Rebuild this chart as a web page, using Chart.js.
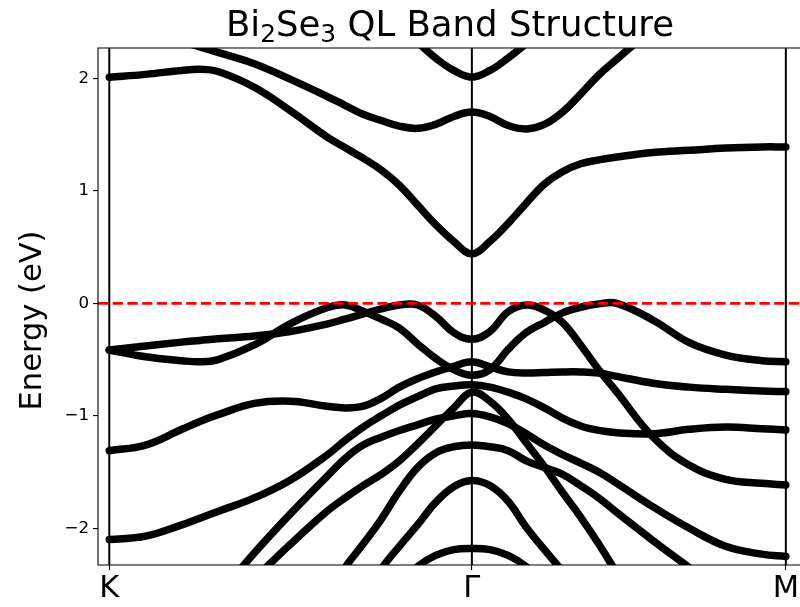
<!DOCTYPE html>
<html><head><meta charset="utf-8">
<script src="https://cdn.jsdelivr.net/npm/chart.js@4.4.0/dist/chart.umd.min.js"></script>
<style>html,body{margin:0;padding:0;background:#fff;}canvas{display:block;}</style>
</head><body>
<canvas id="c" width="800" height="607"></canvas>
<script>
// ---- data (k along K -> Gamma -> M, energies in eV) ----
const kGrid = [0, 0.1, 0.2, 0.25, 0.3, 0.4, 0.5, 0.6, 0.65, 0.7, 0.75, 0.8, 0.85, 0.9, 0.95, 1.0,
               1.05, 1.1, 1.15, 1.2, 1.25, 1.3, 1.35, 1.4, 1.5, 1.6, 1.7, 1.8, 1.866];
const kTicks = [0, 1, 1.866];
const kLabels = ['K', 'Γ', 'M'];
const eTicks = [-2, -1, 0, 1, 2];
const fermiLevel = 0;

const bandC3 = [null, null, null, null, null, null, null, null, null, null, null, 2.45, 2.32, 2.18, 2.07, 2.01,
                2.07, 2.18, 2.31, 2.45, null, null, null, null, null, null, null, null, null];
const bandC2 = [2.55, 2.45, 2.33, 2.28, 2.23, 2.13, 1.99, 1.84, 1.76, 1.68, 1.625, 1.575, 1.555, 1.59, 1.66, 1.70,
                1.66, 1.58, 1.55, 1.59, 1.70, 1.86, 2.03, 2.17, 2.45, null, null, null, null];
const bandC1 = [2.01, 2.035, 2.07, 2.08, 2.06, 1.92, 1.71, 1.48, 1.385, 1.29, 1.185, 1.05, 0.875, 0.70, 0.55, 0.44,
                0.55, 0.71, 0.89, 1.06, 1.17, 1.24, 1.275, 1.30, 1.34, 1.36, 1.38, 1.39, 1.39];
const bandV1 = [-0.415, -0.38, -0.345, -0.33, -0.315, -0.29, -0.25, -0.185, -0.14, -0.095, -0.05, -0.015, -0.015, -0.115, -0.26, -0.32,
                -0.25, -0.075, -0.015, -0.06, -0.17, -0.37, -0.59, -0.79, -1.19, -1.44, -1.565, -1.60, -1.615];
const bandV2 = [-0.415, -0.475, -0.51, -0.52, -0.50, -0.37, -0.18, -0.04, -0.015, -0.07, -0.14, -0.22, -0.36, -0.49, -0.59, -0.64,
                -0.59, -0.41, -0.26, -0.17, -0.085, -0.035, -0.005, 0.0, -0.15, -0.35, -0.46, -0.51, -0.52];
const bandV3 = [-1.31, -1.26, -1.12, -1.05, -0.99, -0.89, -0.87, -0.915, -0.93, -0.915, -0.845, -0.745, -0.67, -0.61, -0.56, -0.52,
                -0.565, -0.61, -0.62, -0.615, -0.61, -0.61, -0.62, -0.65, -0.71, -0.745, -0.765, -0.78, -0.785];
const bandV4 = [-2.10, -2.07, -1.97, -1.91, -1.85, -1.73, -1.57, -1.35, -1.22, -1.10, -1.00, -0.905, -0.83, -0.76, -0.735, -0.725,
                -0.745, -0.79, -0.85, -0.93, -1.02, -1.09, -1.13, -1.15, -1.16, -1.12, -1.10, -1.115, -1.126];
const bandV5 = [null, null, null, null, -2.60, -2.22, -1.87, -1.54, -1.38, -1.26, -1.19, -1.13, -1.08, -1.03, -1.00, -0.98,
                -1.01, -1.07, -1.16, -1.26, -1.345, -1.42, -1.50, -1.60, -1.81, -2.00, -2.16, -2.23, -2.25];
const bandV6 = [null, null, null, null, null, -2.45, -2.14, -1.85, -1.73, -1.62, -1.52, -1.40, -1.25, -1.09, -0.93, -0.79,
                -0.87, -1.03, -1.24, -1.45, -1.68, -1.90, -2.14, -2.40, null, null, null, null, null];
const bandV7 = [null, null, null, null, null, null, null, -2.60, -2.35, -2.14, -1.92, -1.67, -1.46, -1.33, -1.275, -1.26,
                -1.275, -1.31, -1.40, -1.46, -1.52, -1.62, -1.73, -1.86, -2.11, -2.35, null, null, null];
const bandV8 = [null, null, null, null, null, null, null, null, null, -2.60, -2.36, -2.16, -1.97, -1.77, -1.63, -1.575,
                -1.62, -1.76, -1.99, -2.19, -2.38, null, null, null, null, null, null, null, null];
const bandV9 = [null, null, null, null, null, null, null, null, null, null, null, -2.50, -2.34, -2.24, -2.19, -2.18,
                -2.19, -2.24, -2.34, -2.50, null, null, null, null, null, null, null, null, null];

const bands = [bandC3, bandC2, bandC1, bandV1, bandV2, bandV3, bandV4, bandV5, bandV6, bandV7, bandV8, bandV9];

// ---- layout ----
const PLOT_LEFT = 98, PLOT_TOP = 48, PLOT_BOTTOM = 565, W = 800, H = 607;
const PX_PER_K = 363, K_PIX0 = 109.3;
const PX_PER_E = 112.5, E0_PIX = 303.3;
const xMin = (PLOT_LEFT - K_PIX0) / PX_PER_K;
const xMax = (W - K_PIX0) / PX_PER_K;
const yMax = (E0_PIX - PLOT_TOP) / PX_PER_E;
const yMin = (E0_PIX - PLOT_BOTTOM) / PX_PER_E;
const FONT = "'DejaVu Sans', sans-serif";

const datasets = bands.map(b => ({
  data: kGrid.map((k, i) => ({x: k, y: b[i]})),
  borderColor: '#000',
  borderWidth: 7.5,
  borderCapStyle: 'round',
  borderJoinStyle: 'round',
  pointRadius: 0,
  fill: false,
  tension: 0.4,
  spanGaps: false,
  clip: 0
}));

const overlay = {
  id: 'overlay',
  afterDatasetsDraw(chart) {
    const ctx = chart.ctx, a = chart.chartArea, xs = chart.scales.x, ys = chart.scales.y;
    ctx.save();
    ctx.strokeStyle = '#000'; ctx.lineWidth = 2;
    kTicks.forEach(k => {
      const x = xs.getPixelForValue(k);
      ctx.beginPath(); ctx.moveTo(x, a.top); ctx.lineTo(x, a.bottom); ctx.stroke();
    });
    const y0 = ys.getPixelForValue(fermiLevel);
    ctx.strokeStyle = '#ff0000'; ctx.lineWidth = 2.8; ctx.setLineDash([10.3, 4.4]);
    ctx.beginPath(); ctx.moveTo(a.left, y0); ctx.lineTo(a.right + 2, y0); ctx.stroke();
    ctx.setLineDash([]);
    ctx.strokeStyle = '#000'; ctx.lineWidth = 1.1;
    ctx.beginPath();
    ctx.moveTo(a.right + 5, a.top); ctx.lineTo(a.left, a.top); ctx.lineTo(a.left, a.bottom); ctx.lineTo(a.right + 5, a.bottom);
    ctx.stroke();
    ctx.restore();
  },
  afterDraw(chart) {
    const ctx = chart.ctx, a = chart.chartArea;
    ctx.save();
    ctx.fillStyle = '#000';
    const fs = 35.5, sub = fs * 0.7;
    const parts = [['Bi', 0], ['2', 1], ['Se', 0], ['3', 1], [' QL Band Structure', 0]];
    let total = 0;
    parts.forEach(p => { ctx.font = (p[1] ? sub : fs) + 'px ' + FONT; total += ctx.measureText(p[0]).width; });
    let x = 450 - total / 2;
    const base = 36;
    ctx.textBaseline = 'alphabetic'; ctx.textAlign = 'left';
    parts.forEach(p => {
      ctx.font = (p[1] ? sub : fs) + 'px ' + FONT;
      ctx.fillText(p[0], x, p[1] ? base + fs * 0.17 : base);
      x += ctx.measureText(p[0]).width;
    });
    ctx.translate(33, (a.top + a.bottom) / 2 + 14);
    ctx.rotate(-Math.PI / 2);
    ctx.font = '30.5px ' + FONT;
    ctx.textAlign = 'center'; ctx.textBaseline = 'middle';
    ctx.fillText('Energy (eV)', 0, 0);
    ctx.restore();
  }
};

new Chart(document.getElementById('c'), {
  type: 'line',
  data: { datasets },
  options: {
    responsive: false,
    animation: false,
    devicePixelRatio: 1,
    elements: { line: { capBezierPoints: false } },
    layout: { padding: { top: PLOT_TOP, left: 0, right: 0, bottom: 0 } },
    plugins: { legend: { display: false }, tooltip: { enabled: false }, title: { display: false } },
    scales: {
      x: {
        type: 'linear', min: xMin, max: xMax,
        afterBuildTicks: s => { s.ticks = kTicks.map(v => ({ value: v })); },
        afterFit: s => { s.height = H - PLOT_BOTTOM; },
        ticks: { autoSkip: false, maxRotation: 0, padding: 1, color: '#000',
                 font: { family: FONT, size: 30.5 },
                 callback: (v, i) => kLabels[i] },
        grid: { drawOnChartArea: false, drawTicks: true, tickLength: 5, color: '#000', lineWidth: 1.1 },
        border: { display: false }
      },
      y: {
        type: 'linear', min: yMin, max: yMax,
        afterBuildTicks: s => { s.ticks = eTicks.map(v => ({ value: v })); },
        afterFit: s => { s.width = PLOT_LEFT; },
        ticks: { autoSkip: false, padding: 4, color: '#000',
                 font: { family: FONT, size: 16.7 },
                 callback: v => v < 0 ? '\u2212' + Math.abs(v) : String(v) },
        grid: { drawOnChartArea: false, drawTicks: true, tickLength: 5, color: '#000', lineWidth: 1.1 },
        border: { display: false }
      }
    }
  },
  plugins: [overlay]
});
</script>
</body></html>
